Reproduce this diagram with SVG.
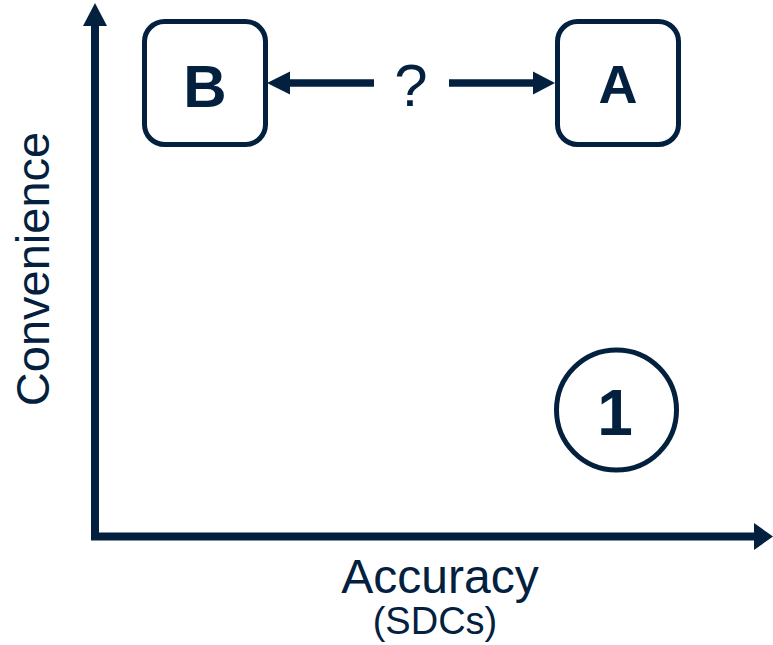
<svg xmlns="http://www.w3.org/2000/svg" width="773" height="645" viewBox="0 0 773 645">
<style>
.ln{stroke:#03213f;fill:none}
.hd{fill:#03213f;stroke:none}
.box{fill:#fff;stroke:#03213f;stroke-width:5}
.t{font-family:"Liberation Sans",Arial,sans-serif;fill:#03213f;text-anchor:middle}
.b{font-weight:bold}
</style>
<rect width="773" height="645" fill="#fff"/>
<g id="axes">
<path class="ln" d="M95,540 V24" stroke-width="8"/>
<polygon class="hd" points="95,3 83,26 107,26"/>
<path class="ln" d="M91,536.5 H756" stroke-width="8"/>
<polygon class="hd" points="773,536.5 754,523 754,550"/>
<text class="t" x="440" y="593" font-size="48">Accuracy</text>
<text class="t" x="435" y="634" font-size="38">(SDCs)</text>
<text class="t" x="0" y="0" font-size="47" transform="translate(49,269) rotate(-90)">Convenience</text>
</g>
<g id="nodeB">
<rect class="box" x="144.5" y="21.5" width="121" height="123" rx="20"/>
<text class="t b" x="205" y="107" font-size="60">B</text>
</g>
<g id="nodeA">
<rect class="box" x="557.5" y="21.5" width="121" height="123" rx="20"/>
<text class="t b" x="618" y="103" font-size="54">A</text>
</g>
<g id="node1">
<circle class="box" cx="616.5" cy="410" r="60"/>
<text class="t b" x="615" y="435" font-size="64">1</text>
</g>
<g id="connectors">
<path class="ln" d="M288,83 H374" stroke-width="7.5"/>
<polygon class="hd" points="267,83 290,71.5 290,94.5"/>
<path class="ln" d="M449,83 H535" stroke-width="7.5"/>
<polygon class="hd" points="555,83 533,71.5 533,94.5"/>
<text class="t" x="411" y="106" font-size="60">?</text>
</g>
</svg>
